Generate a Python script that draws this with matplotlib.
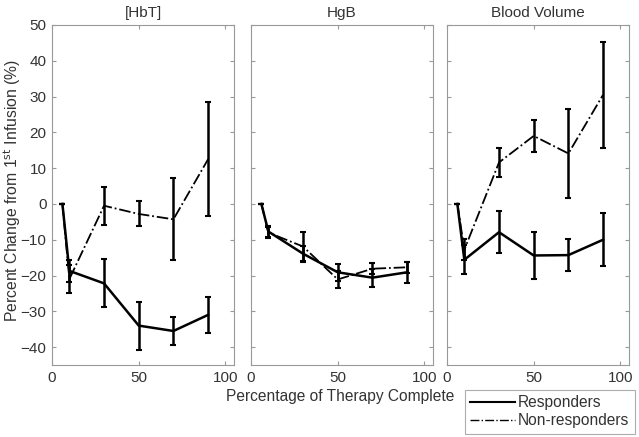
import numpy as np
import matplotlib.pyplot as plt
from matplotlib.lines import Line2D

plt.rcParams['font.family'] = ['Liberation Sans', 'DejaVu Sans']

# percentage of therapy complete
pct = [6, 10, 30, 50, 70, 90]

titles = ["[HbT]", "HgB", "Blood Volume"]

# responders: mean and error per panel
resp_mean = [
    [0, -18.7, -22.2, -34.0, -35.5, -31.0],
    [0, -7.7, -13.9, -19.1, -20.6, -19.1],
    [0, -15.6, -7.9, -14.4, -14.3, -10.0],
]
resp_err = [
    [0, 3.0, 6.7, 6.7, 4.0, 5.0],
    [0, 1.6, 2.2, 2.4, 2.5, 3.0],
    [0, 4.0, 5.8, 6.6, 4.4, 7.4],
]

# non-responders
nonr_mean = [
    [0, -21.0, -0.5, -2.8, -4.3, 12.5],
    [0, -8.0, -11.9, -21.1, -18.1, -17.7],
    [0, -12.8, 11.6, 19.0, 14.1, 30.5],
]
nonr_err = [
    [0, 4.0, 5.3, 3.5, 11.5, 16.0],
    [0, 1.6, 4.0, 2.5, 1.5, 1.5],
    [0, 3.0, 4.0, 4.4, 12.5, 14.8],
]

txt = "#333333"
grey = "#999999"

fig = plt.figure(figsize=(6.39, 4.37), dpi=100)
lefts = [0.0814, 0.3928, 0.6995]
axes = []
for i in range(3):
    ax = fig.add_axes([lefts[i], 0.1648, 0.285, 0.778])
    axes.append(ax)
    ax.errorbar(pct, resp_mean[i], yerr=resp_err[i], color="black",
                lw=1.8, elinewidth=1.8, capsize=2, capthick=1.5, ls="-")
    ax.errorbar(pct, nonr_mean[i], yerr=nonr_err[i], color="black",
                lw=1.3, elinewidth=1.8, capsize=2, capthick=1.5, ls="-.")
    ax.set_xlim(0, 105)
    ax.set_ylim(-45, 50)
    ax.set_xticks([0, 50, 100])
    ax.set_yticks(np.arange(-40, 51, 10))
    ax.tick_params(direction="in", top=True, right=True, length=3,
                   color=grey, labelsize=11, labelcolor=txt, pad=4)
    for s in ax.spines.values():
        s.set_color(grey)
        s.set_linewidth(0.8)
    if i > 0:
        ax.set_yticklabels([])
    ax.set_title(titles[i], fontsize=11, color=txt, pad=6)

fig.text(0.019, 0.565, "Percent Change from 1$^{\\rm st}$ Infusion (%)",
         rotation=90, ha="center", va="center", fontsize=11.3, color=txt)
fig.text(0.532, 0.092, "Percentage of Therapy Complete", ha="center",
         va="center", fontsize=11.2, color=txt)

handles = [Line2D([], [], color="black", lw=1.5, ls="-"),
           Line2D([], [], color="black", lw=1.0, ls="-.")]
leg = fig.legend(handles, ["Responders", "Non-responders"], loc="lower right",
                 bbox_to_anchor=(0.993, 0.008), fontsize=11.2,
                 frameon=True, fancybox=False, handlelength=2.9,
                 borderpad=0.35, labelspacing=0.2, handletextpad=0.15,
                 borderaxespad=0, labelcolor=txt)
leg.get_frame().set_edgecolor(grey)
leg.get_frame().set_linewidth(0.8)

plt.savefig("out.png", dpi=100, facecolor="white")
